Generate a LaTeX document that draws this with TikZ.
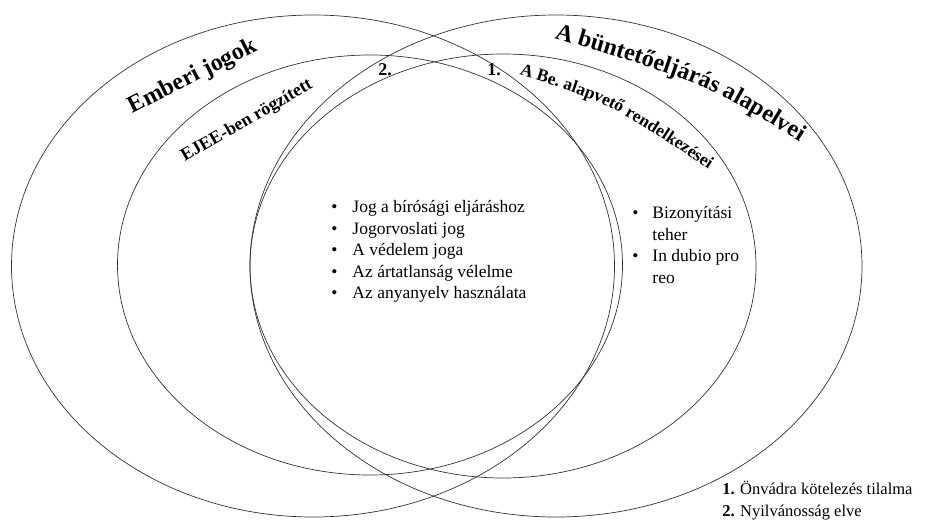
\documentclass[tikz,border=0pt]{standalone}
\usepackage{fontspec}
\setmainfont{Liberation Serif}
\usetikzlibrary{shapes.geometric,decorations.text}

\begin{document}
\begin{tikzpicture}[x=1pt,y=-1pt,line width=0.7pt]
  \tikzstyle{ring}=[ellipse,draw=black!80,inner sep=0pt]
  \tikzstyle{title}=[font=\fontsize{24}{28}\selectfont\bfseries,inner sep=0pt]
  \tikzstyle{subtitle}=[font=\fontsize{18}{21}\selectfont\bfseries,inner sep=0pt]
  \tikzstyle{list}=[font=\fontsize{17.5}{21.5}\selectfont,align=left,inner sep=0pt]

  \useasboundingbox (0,0) rectangle (927,522);

  % the four rings
  \node[ring,minimum width=603pt,minimum height=502pt] (emberi) at (313,266) {};
  \node[ring,minimum width=612pt,minimum height=502pt] (alapelv) at (556,266) {};
  \node[ring,minimum width=505pt,minimum height=420pt] (ejee) at (370,265) {};
  \node[ring,minimum width=506pt,minimum height=424pt] (be) at (503,266) {};

  % ring labels
  \node[title,rotate=27] (emberit) at (193,77) {Emberi jogok};
  \node[subtitle,rotate=30] (ejeet) at (247,121) {EJEE-ben rögzített};
  \coordinate (alapelvA) at (554,38);
  \coordinate (alapelvB) at (800,142);
  \path[decorate,decoration={text along path,text align=center,
      text={|\fontsize{24}{28}\selectfont\bfseries|A büntetőeljárás alapelvei}}]
    (alapelvA) .. controls (707,84) .. (alapelvB);
  \coordinate (beA) at (513,73);
  \coordinate (beB) at (714,173);
  \path[decorate,decoration={text along path,text align=center,
      text={|\fontsize{17.5}{21}\selectfont\bfseries|A Be. alapvető rendelkezései}}]
    (beA) .. controls (610,103) .. (beB);
  \node[subtitle] (ketto) at (385,70) {2.};
  \node[subtitle] (egy) at (494,70) {1.};

  % the lists
  \node[list,anchor=north west] (kozos) at (331,200)
    {\textbullet\hspace{15pt}Jog a bírósági eljáráshoz\\
     \textbullet\hspace{15pt}Jogorvoslati jog\\
     \textbullet\hspace{15pt}A védelem joga\\
     \textbullet\hspace{15pt}Az ártatlanság vélelme\\
     \textbullet\hspace{15pt}Az anyanyelv használata};
  \node[list,anchor=north west] (bizony) at (632,206)
    {\textbullet\hspace{14pt}Bizonyítási\\
     \phantom{\textbullet}\hspace{14pt}teher\\
     \textbullet\hspace{14pt}In dubio pro\\
     \phantom{\textbullet}\hspace{14pt}reo};

  % legend
  \node[list,font=\fontsize{16.5}{22}\selectfont,anchor=north west] (jelmagy) at (722,481)
    {\textbf{1.} Önvádra kötelezés tilalma\\
     \textbf{2.} Nyilvánosság elve};
\end{tikzpicture}
\end{document}
